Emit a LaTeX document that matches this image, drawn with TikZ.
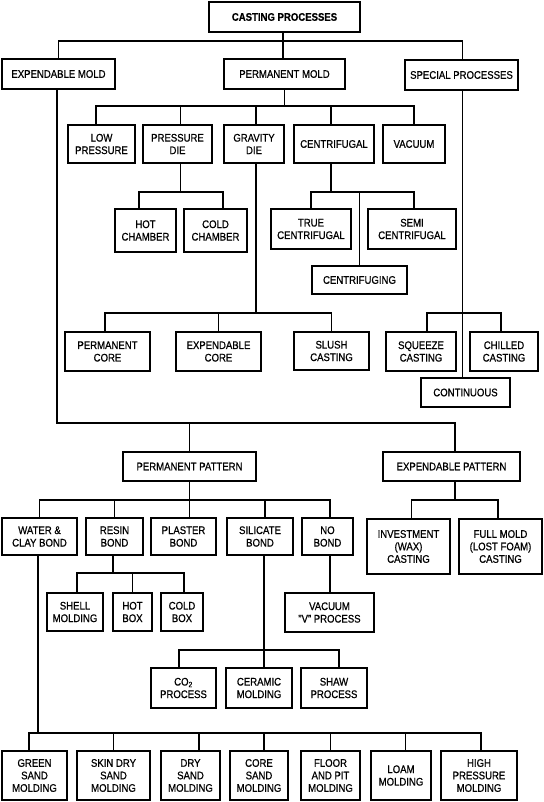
\documentclass[tikz,border=0pt]{standalone}
\usepackage{fontspec}
\setmainfont{Liberation Sans}[FakeStretch=0.87,FakeBold=0.7]
\tikzset{
  box/.style={draw, line width=1.7pt, align=center, inner sep=0pt,
              font=\fontsize{11}{12.5}\selectfont},
  conn/.style={line width=1.7pt},
}
\newcommand\bx[6]{\node[box, minimum width={#4-#2}, minimum height={#5-#3}] (#1) at ({(#2+#4)/2},{(#3+#5)/2}) {#6};}
\begin{document}
\begin{tikzpicture}[x=1pt,y=-1pt]
\fill[white] (0,0) rectangle (543,802);
\useasboundingbox (0,0) rectangle (543,802);
% nodes
\bx{cast}{209}{2}{360}{32}{\bfseries CASTING PROCESSES}
\bx{expm}{2}{59}{115}{89}{EXPENDABLE MOLD}
\bx{perm}{224}{59}{345}{89}{PERMANENT MOLD}
\bx{spec}{405}{60}{518}{90}{SPECIAL PROCESSES}
\bx{lowp}{68}{125}{135}{163}{LOW\\PRESSURE}
\bx{pdie}{143}{125}{212}{163}{PRESSURE\\DIE}
\bx{gdie}{224}{125}{284}{163}{GRAVITY\\DIE}
\bx{cent}{294}{125}{374}{163}{CENTRIFUGAL}
\bx{vac}{383}{125}{445}{163}{VACUUM}
\bx{hotc}{115}{209}{176}{252}{HOT\\CHAMBER}
\bx{coldc}{184}{209}{247}{252}{COLD\\CHAMBER}
\bx{truec}{271}{209}{351}{249}{TRUE\\CENTRIFUGAL}
\bx{semic}{368}{209}{456}{249}{SEMI\\CENTRIFUGAL}
\bx{centg}{312}{266}{407}{294}{CENTRIFUGING}
\bx{pcore}{65}{332}{150}{371}{PERMANENT\\CORE}
\bx{ecore}{176}{332}{261}{371}{EXPENDABLE\\CORE}
\bx{slush}{294}{332}{369}{370}{SLUSH\\CASTING}
\bx{squeeze}{386}{332}{456}{371}{SQUEEZE\\CASTING}
\bx{chilled}{470}{332}{538}{371}{CHILLED\\CASTING}
\bx{cont}{421}{378}{510}{407}{CONTINUOUS}
\bx{ppat}{123}{452}{256}{481}{PERMANENT PATTERN}
\bx{epat}{383}{452}{520}{481}{EXPENDABLE PATTERN}
\bx{wcb}{2}{518}{77}{555}{WATER \&\\CLAY BOND}
\bx{resin}{86}{518}{143}{555}{RESIN\\BOND}
\bx{plaster}{151}{518}{216}{555}{PLASTER\\BOND}
\bx{silicate}{227}{518}{293}{555}{SILICATE\\BOND}
\bx{nobond}{302}{518}{353}{555}{NO\\BOND}
\bx{invest}{367}{519}{450}{574}{INVESTMENT\\(WAX)\\CASTING}
\bx{fullm}{459}{519}{542}{574}{FULL MOLD\\(LOST FOAM)\\CASTING}
\bx{shell}{47}{593}{103}{631}{SHELL\\MOLDING}
\bx{hotbox}{113}{593}{152}{631}{HOT\\BOX}
\bx{coldbox}{161}{593}{203}{631}{COLD\\BOX}
\bx{vvp}{285}{593}{374}{632}{VACUUM\\"V" PROCESS}
\bx{co2}{151}{668}{216}{708}{CO\textsubscript{2}\\PROCESS}
\bx{ceramic}{226}{668}{292}{708}{CERAMIC\\MOLDING}
\bx{shaw}{301}{668}{367}{708}{SHAW\\PROCESS}
\bx{green}{2}{751}{67}{800}{GREEN\\SAND\\MOLDING}
\bx{skin}{77}{751}{150}{800}{SKIN DRY\\SAND\\MOLDING}
\bx{dry}{161}{751}{220}{800}{DRY\\SAND\\MOLDING}
\bx{coresand}{230}{751}{288}{800}{CORE\\SAND\\MOLDING}
\bx{floor}{301}{751}{360}{800}{FLOOR\\AND PIT\\MOLDING}
\bx{loam}{371}{751}{431}{800}{LOAM\\MOLDING}
\bx{high}{441}{751}{517}{800}{HIGH\\PRESSURE\\MOLDING}
% bus levels
\coordinate (y1) at (0,41);
\coordinate (y2) at (0,106);
\coordinate (y3) at (0,192);
\coordinate (y4) at (0,313);
\coordinate (y5) at (0,423);
\coordinate (y6) at (0,500);
\coordinate (y7) at (0,573);
\coordinate (y8) at (0,650);
\coordinate (y9) at (0,733);
% top level
\draw[conn] ([xshift=-1.5pt]cast.south) -- ([xshift=-1.5pt]cast.south |- perm.north);
\draw[conn] (expm.north) |- ([xshift=1pt]spec.north |- y1) -- ([xshift=1pt]spec.north);
% permanent mold
\draw[conn] (perm.south) -- (perm.south |- y2);
\draw[conn] ([xshift=-5.5pt]lowp.north) |- (vac.north |- y2) -- (vac.north);
\draw[conn] ([xshift=3pt]pdie.north) -- ([xshift=3pt]pdie.north |- y2);
\draw[conn] ([xshift=2pt]gdie.north) -- ([xshift=2pt]gdie.north |- y2);
\draw[conn] ([xshift=-3pt]cent.north) -- ([xshift=-3pt]cent.north |- y2);
% pressure die
\draw[conn] ([xshift=3pt]pdie.south) -- ([xshift=3pt]pdie.south |- y3);
\draw[conn] ([xshift=-6.5pt]hotc.north) |- ([xshift=7.5pt]coldc.north |- y3) -- ([xshift=7.5pt]coldc.north);
% centrifugal
\draw[conn] ([xshift=-3pt]cent.south) -- ([xshift=-3pt]cent.south |- y3);
\draw[conn] (truec.north) |- ([xshift=2pt]semic.north |- y3) -- ([xshift=2pt]semic.north);
\draw[conn] (centg.north) -- (centg.north |- y3);
% gravity die
\draw[conn] ([xshift=2pt]gdie.south) -- ([xshift=2pt]gdie.south |- y4);
\draw[conn] ([xshift=-2.5pt]pcore.north) |- (slush.north |- y4) -- (slush.north);
\draw[conn] (ecore.north) -- (ecore.north |- y4);
% special processes
\draw[conn] ([xshift=1pt]spec.south) -- ([xshift=1pt]spec.south |- cont.north);
\draw[conn] ([xshift=6pt]squeeze.north) |- ([xshift=-3pt]chilled.north |- y4) -- ([xshift=-3pt]chilled.north);
% expendable mold
\draw[conn] ([xshift=-1.5pt]expm.south) |- ([xshift=3.5pt]epat.north |- y5) -- ([xshift=3.5pt]epat.north);
\draw[conn] (ppat.north) -- (ppat.north |- y5);
% permanent pattern
\draw[conn] (ppat.south) -- (ppat.south |- plaster.north);
\draw[conn] (wcb.north) |- ([xshift=2.5pt]nobond.north |- y6) -- ([xshift=2.5pt]nobond.north);
\draw[conn] (resin.north) -- (resin.north |- y6);
\draw[conn] ([xshift=5pt]silicate.north) -- ([xshift=5pt]silicate.north |- y6);
% expendable pattern
\draw[conn] ([xshift=3.5pt]epat.south) -- ([xshift=3.5pt]epat.south |- y6);
\draw[conn] ([xshift=3pt]invest.north) |- ([xshift=-2.5pt]fullm.north |- y6) -- ([xshift=-2.5pt]fullm.north);
% resin bond
\draw[conn] ([xshift=-1.5pt]resin.south) -- ([xshift=-1.5pt]resin.south |- y7);
\draw[conn] ([xshift=2pt]shell.north) |- ([xshift=2pt]coldbox.north |- y7) -- ([xshift=2pt]coldbox.north);
\draw[conn] (hotbox.north) -- (hotbox.north |- y7);
% no bond
\draw[conn] ([xshift=2.5pt]nobond.south) -- ([xshift=2.5pt]nobond.south |- vvp.north);
% silicate bond
\draw[conn] ([xshift=4pt]silicate.south) -- ([xshift=4pt]silicate.south |- ceramic.north);
\draw[conn] ([xshift=-4.5pt]co2.north) |- ([xshift=5pt]shaw.north |- y8) -- ([xshift=5pt]shaw.north);
% water & clay bond
\draw[conn] ([xshift=-1.5pt]wcb.south) -- ([xshift=-1.5pt]wcb.south |- y9);
\draw[conn] ([xshift=-5.5pt]green.north) |- ([xshift=2pt]high.north |- y9) -- ([xshift=2pt]high.north);
\draw[conn] (skin.north) -- (skin.north |- y9);
\draw[conn] ([xshift=8.5pt]dry.north) -- ([xshift=8.5pt]dry.north |- y9);
\draw[conn] ([xshift=5pt]coresand.north) -- ([xshift=5pt]coresand.north |- y9);
\draw[conn] (floor.north) -- (floor.north |- y9);
\draw[conn] ([xshift=4.5pt]loam.north) -- ([xshift=4.5pt]loam.north |- y9);
\end{tikzpicture}
\end{document}
